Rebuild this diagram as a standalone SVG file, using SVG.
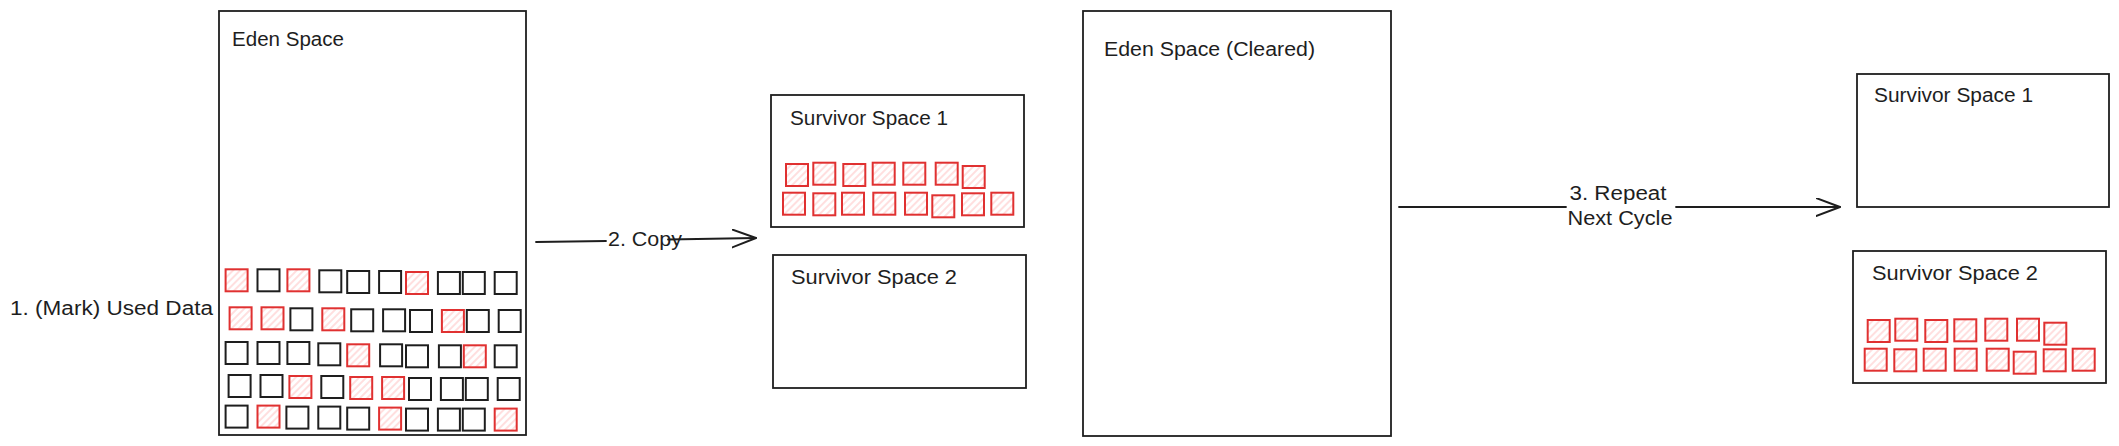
<svg xmlns="http://www.w3.org/2000/svg" width="2119" height="446" viewBox="0 0 2119 446">
<defs>
<pattern id="hatch" width="5" height="5" patternUnits="userSpaceOnUse" patternTransform="rotate(45)">
<line x1="1" y1="0" x2="1" y2="5" stroke="#ffc9c9" stroke-width="1.2"/>
</pattern>
<marker id="arrowhead" markerWidth="30" markerHeight="30" refX="24" refY="9" orient="auto" markerUnits="userSpaceOnUse">
<path d="M0,0 L24,9 L0,18" fill="none" stroke="#1e1e1e" stroke-width="2" stroke-linecap="round" stroke-linejoin="round"/>
</marker>
<style>
.box{fill:#ffffff;stroke:#1e1e1e;stroke-width:1.8;}
.blk{fill:none;stroke:#1e1e1e;stroke-width:2;}
.red{fill:url(#hatch);stroke:#e03131;stroke-width:2;}
.lbl{font-family:"Liberation Sans",Arial,sans-serif;font-size:20px;fill:#1e1e1e;}
.conn{fill:none;stroke:#1e1e1e;stroke-width:1.8;stroke-linecap:round;}
</style>
</defs>
<rect x="0" y="0" width="2119" height="446" fill="#ffffff"/>

<g id="mark-label">
<text class="lbl" x="10" y="315" textLength="203" lengthAdjust="spacingAndGlyphs">1. (Mark) Used Data</text>
</g>

<g id="eden-space">
<rect class="box" x="219" y="11" width="307" height="424"/>
<text class="lbl" x="232" y="46" textLength="112" lengthAdjust="spacingAndGlyphs">Eden Space</text>
<g id="eden-objects">
<rect class="red" x="225.6" y="269.3" width="22" height="22"/>
<rect class="blk" x="257.5" y="269.3" width="22" height="22"/>
<rect class="red" x="287.4" y="269.3" width="22" height="22"/>
<rect class="blk" x="319.3" y="270.3" width="22" height="22"/>
<rect class="blk" x="347.2" y="271" width="22" height="22"/>
<rect class="blk" x="379.1" y="271" width="22" height="22"/>
<rect class="red" x="406" y="272" width="22" height="22"/>
<rect class="blk" x="437.9" y="272" width="22" height="22"/>
<rect class="blk" x="462.8" y="272" width="22" height="22"/>
<rect class="blk" x="494.7" y="272" width="22" height="22"/>

<rect class="red" x="229.6" y="307.3" width="22" height="22"/>
<rect class="red" x="261.5" y="307.3" width="22" height="22"/>
<rect class="blk" x="290.4" y="308.3" width="22" height="22"/>
<rect class="red" x="322.3" y="308.3" width="22" height="22"/>
<rect class="blk" x="351.2" y="309.3" width="22" height="22"/>
<rect class="blk" x="383.1" y="309.3" width="22" height="22"/>
<rect class="blk" x="410" y="310" width="22" height="22"/>
<rect class="red" x="441.9" y="310" width="22" height="22"/>
<rect class="blk" x="466.8" y="310" width="22" height="22"/>
<rect class="blk" x="498.7" y="310" width="22" height="22"/>

<rect class="blk" x="225.6" y="342" width="22" height="22"/>
<rect class="blk" x="257.5" y="342" width="22" height="22"/>
<rect class="blk" x="287.4" y="342" width="22" height="22"/>
<rect class="blk" x="318.3" y="343.3" width="22" height="22"/>
<rect class="red" x="347.2" y="344.3" width="22" height="22"/>
<rect class="blk" x="380.1" y="344.3" width="22" height="22"/>
<rect class="blk" x="406" y="345.3" width="22" height="22"/>
<rect class="blk" x="438.9" y="345.3" width="22" height="22"/>
<rect class="red" x="463.8" y="345.3" width="22" height="22"/>
<rect class="blk" x="494.7" y="345.3" width="22" height="22"/>

<rect class="blk" x="228.6" y="375" width="22" height="22"/>
<rect class="blk" x="260.5" y="375" width="22" height="22"/>
<rect class="red" x="289.4" y="376" width="22" height="22"/>
<rect class="blk" x="321.3" y="376" width="22" height="22"/>
<rect class="red" x="350.2" y="377" width="22" height="22"/>
<rect class="red" x="382.1" y="377" width="22" height="22"/>
<rect class="blk" x="409" y="378" width="22" height="22"/>
<rect class="blk" x="440.9" y="378" width="22" height="22"/>
<rect class="blk" x="465.8" y="378" width="22" height="22"/>
<rect class="blk" x="497.7" y="378" width="22" height="22"/>

<rect class="blk" x="225.6" y="405.6" width="22" height="22"/>
<rect class="red" x="257.5" y="405.6" width="22" height="22"/>
<rect class="blk" x="286.4" y="406.6" width="22" height="22"/>
<rect class="blk" x="318.3" y="406.6" width="22" height="22"/>
<rect class="blk" x="347.2" y="407.6" width="22" height="22"/>
<rect class="red" x="379.1" y="407.6" width="22" height="22"/>
<rect class="blk" x="406" y="408.6" width="22" height="22"/>
<rect class="blk" x="437.9" y="408.6" width="22" height="22"/>
<rect class="blk" x="462.8" y="408.6" width="22" height="22"/>
<rect class="red" x="494.7" y="408.6" width="22" height="22"/>
</g>
</g>

<g id="survivor-1-mid">
<rect class="box" x="771" y="95" width="253" height="132"/>
<text class="lbl" x="790" y="125" textLength="158" lengthAdjust="spacingAndGlyphs">Survivor Space 1</text>
<g id="survivor-1-mid-objects">
<rect class="red" x="786" y="164" width="22" height="22"/>
<rect class="red" x="813.3" y="162.7" width="22" height="22"/>
<rect class="red" x="843.3" y="164" width="22" height="22"/>
<rect class="red" x="872.7" y="162.7" width="22" height="22"/>
<rect class="red" x="903.3" y="162.7" width="22" height="22"/>
<rect class="red" x="935.7" y="162.7" width="22" height="22"/>
<rect class="red" x="962.7" y="166" width="22" height="22"/>
<rect class="red" x="783" y="192.7" width="22" height="22"/>
<rect class="red" x="813.3" y="193.3" width="22" height="22"/>
<rect class="red" x="842" y="192.7" width="22" height="22"/>
<rect class="red" x="873.3" y="192.7" width="22" height="22"/>
<rect class="red" x="905" y="192.7" width="22" height="22"/>
<rect class="red" x="932.3" y="195.3" width="22" height="22"/>
<rect class="red" x="962" y="193.3" width="22" height="22"/>
<rect class="red" x="991.3" y="192.7" width="22" height="22"/>
</g>
</g>

<g id="survivor-2-mid">
<rect class="box" x="773" y="255" width="253" height="133"/>
<text class="lbl" x="791" y="284" textLength="166" lengthAdjust="spacingAndGlyphs">Survivor Space 2</text>
</g>

<g id="eden-space-cleared">
<rect class="box" x="1083" y="11" width="308" height="425"/>
<text class="lbl" x="1104" y="56" textLength="211" lengthAdjust="spacingAndGlyphs">Eden Space (Cleared)</text>
</g>

<g id="survivor-1-right">
<rect class="box" x="1857" y="74" width="252" height="133"/>
<text class="lbl" x="1874" y="102" textLength="159" lengthAdjust="spacingAndGlyphs">Survivor Space 1</text>
</g>

<g id="survivor-2-right">
<rect class="box" x="1853" y="251" width="253" height="132"/>
<text class="lbl" x="1872" y="280" textLength="166" lengthAdjust="spacingAndGlyphs">Survivor Space 2</text>
<g id="survivor-2-right-objects">
<rect class="red" x="1867.7" y="320" width="22" height="22"/>
<rect class="red" x="1895.3" y="318.7" width="22" height="22"/>
<rect class="red" x="1925.3" y="320" width="22" height="22"/>
<rect class="red" x="1954.3" y="319.3" width="22" height="22"/>
<rect class="red" x="1985.3" y="318.7" width="22" height="22"/>
<rect class="red" x="2017" y="318.7" width="22" height="22"/>
<rect class="red" x="2044.3" y="322.7" width="22" height="22"/>
<rect class="red" x="1864.7" y="348.7" width="22" height="22"/>
<rect class="red" x="1894.3" y="349.3" width="22" height="22"/>
<rect class="red" x="1923.7" y="348.7" width="22" height="22"/>
<rect class="red" x="1954.7" y="348.7" width="22" height="22"/>
<rect class="red" x="1986.7" y="348.7" width="22" height="22"/>
<rect class="red" x="2013.7" y="351.7" width="22" height="22"/>
<rect class="red" x="2043.7" y="349.3" width="22" height="22"/>
<rect class="red" x="2072.7" y="348.7" width="22" height="22"/>
</g>
</g>

<g id="connectors">
<g id="arrow-copy">
<path class="conn" d="M536,242 L606,241"/>
<path class="conn" d="M668,239.5 L756,238" marker-end="url(#arrowhead)"/>
<text class="lbl" x="608" y="246" textLength="74" lengthAdjust="spacingAndGlyphs">2. Copy</text>
</g>
<g id="arrow-repeat">
<path class="conn" d="M1399,207 L1566,207"/>
<path class="conn" d="M1676,207 L1840,207" marker-end="url(#arrowhead)"/>
<text class="lbl" x="1618" y="200" text-anchor="middle" textLength="97" lengthAdjust="spacingAndGlyphs">3. Repeat</text>
<text class="lbl" x="1620" y="225" text-anchor="middle" textLength="105" lengthAdjust="spacingAndGlyphs">Next Cycle</text>
</g>
</g>
</svg>
